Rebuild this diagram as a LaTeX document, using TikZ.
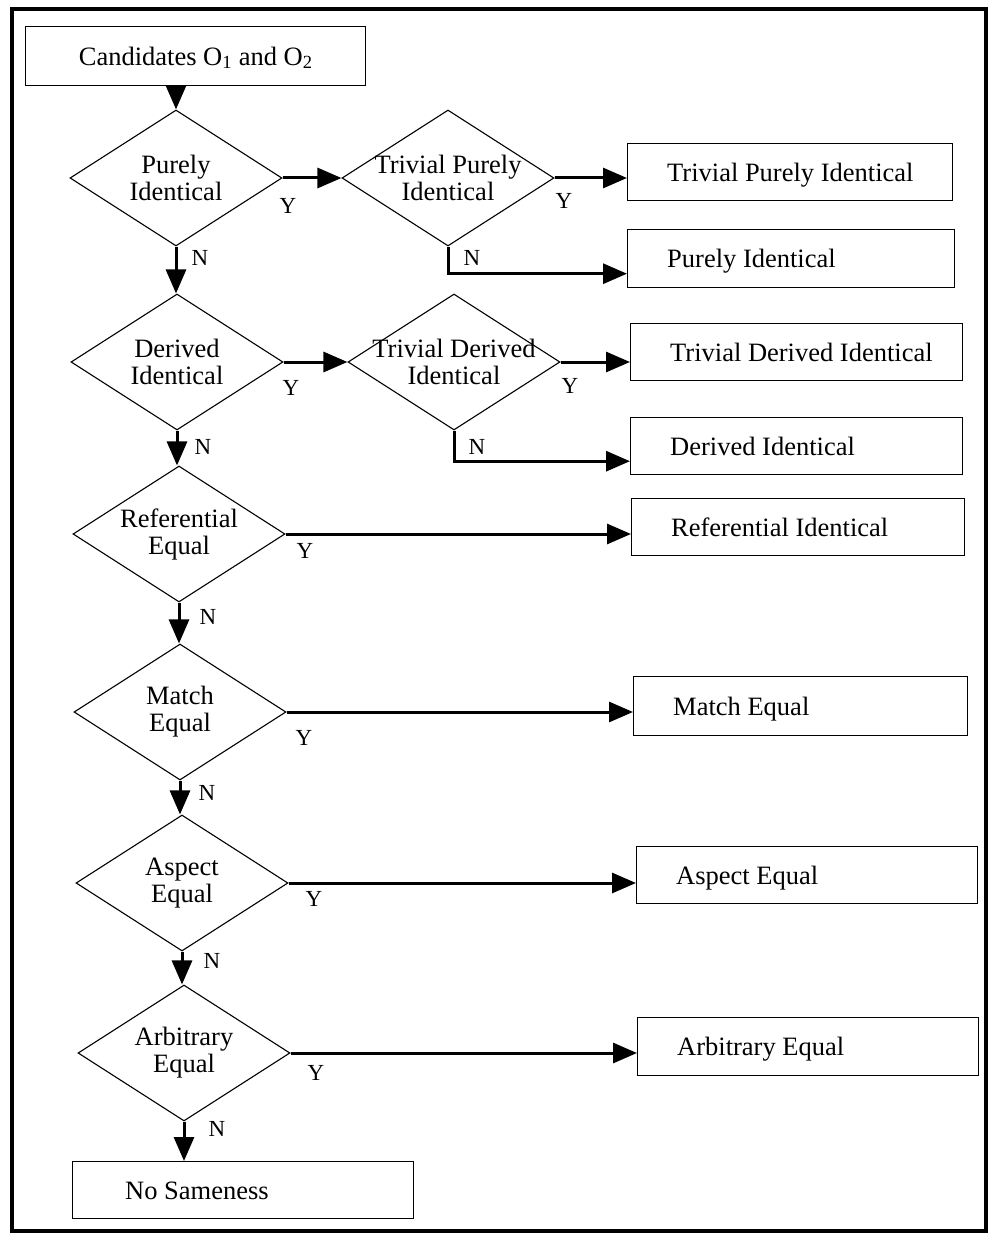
\documentclass[tikz,border=0pt]{standalone}
\usepackage{fontspec}
\setmainfont{Liberation Serif}
\usetikzlibrary{shapes.geometric,arrows.meta,calc}
\begin{document}
\begin{tikzpicture}[x=1pt,y=-1pt,
  every node/.style={font=\fontsize{26.5}{27}\selectfont},
  box/.style={draw, line width=1.4pt, anchor=north west, minimum height=57pt, inner sep=0pt},
  btxt/.style={anchor=west, xshift=40pt, inner sep=0pt, text height=18pt, text depth=0pt},
  dec/.style={draw, diamond, line width=1.1pt, minimum width=212pt, minimum height=136pt, inner sep=0pt},
  dtxt/.style={align=center, inner sep=0pt},
  flow/.style={line width=3pt, -{Triangle[length=24pt,width=20pt]}},
  yn/.style={font=\fontsize{23}{23}\selectfont, inner sep=0pt, text height=15.2pt, text depth=0pt}]

\useasboundingbox (0,0) rectangle (991,1233);
% outer frame
\draw[line width=3.5pt] (12,9) rectangle (986,1231);

% start box
\node[box, minimum width=340pt, minimum height=59pt, text height=18pt, text depth=0pt]
  (cand) at (25,26) {Candidates O\textsubscript{1} and O\textsubscript{2}};

% decisions
\node[dec, label={[dtxt]center:Purely\\Identical}] (d1) at (176,178) {};
\node[dec, label={[dtxt]center:Trivial Purely\\Identical}] (d2) at (448,178) {};
\node[dec, label={[dtxt]center:Derived\\Identical}] (d3) at (177,362) {};
\node[dec, label={[dtxt]center:Trivial Derived\\Identical}] (d4) at (454,362) {};
\node[dec, label={[dtxt]center:Referential\\Equal}] (d5) at (179,534) {};
\node[dec, label={[dtxt]center:Match\\Equal}] (d6) at (180,712) {};
\node[dec, label={[dtxt]center:Aspect\\Equal}] (d7) at (182,883) {};
\node[dec, label={[dtxt]center:Arbitrary\\Equal}] (d8) at (184,1053) {};

% outcomes
\node[box, minimum width=325pt, label={[btxt]west:Trivial Purely Identical}] (tpi) at (627,143) {};
\node[box, minimum width=327pt, minimum height=58pt, label={[btxt]west:Purely Identical}] (pi) at (627,229) {};
\node[box, minimum width=332pt, label={[btxt]west:Trivial Derived Identical}] (tdi) at (630,323) {};
\node[box, minimum width=332pt, label={[btxt]west:Derived Identical}] (di) at (630,417) {};
\node[box, minimum width=333pt, label={[btxt]west:Referential Identical}] (ri) at (631,498) {};
\node[box, minimum width=334pt, minimum height=59pt, label={[btxt]west:Match Equal}] (me) at (633,676) {};
\node[box, minimum width=341pt, label={[btxt]west:Aspect Equal}] (ae) at (636,846) {};
\node[box, minimum width=341pt, minimum height=58pt, label={[btxt]west:Arbitrary Equal}] (arb) at (637,1017) {};
\node[box, minimum width=341pt, label={[btxt, xshift=13pt]west:No Sameness}] (ns) at (72,1161) {};

% connectors
\draw[flow] (cand.south -| d1.north) -- (d1.north);
\draw[flow] (d1.east) -- (d2.west);
\draw[flow] (d2.east) -- (d2.east -| tpi.west);
\draw[flow] (d2.south) |- ($(pi.west)+(0,15)$);
\draw[flow] (d1.south) -- (d1.south |- d3.north);
\draw[flow] (d3.east) -- (d4.west);
\draw[flow] (d4.east) -- (d4.east -| tdi.west);
\draw[flow] (d4.south) |- ($(di.west)+(0,15)$);
\draw[flow] (d3.south) -- (d3.south |- d5.north);
\draw[flow] (d5.east) -- (d5.east -| ri.west);
\draw[flow] (d5.south) -- (d5.south |- d6.north);
\draw[flow] (d6.east) -- (d6.east -| me.west);
\draw[flow] (d6.south) -- (d6.south |- d7.north);
\draw[flow] (d7.east) -- (d7.east -| ae.west);
\draw[flow] (d7.south) -- (d7.south |- d8.north);
\draw[flow] (d8.east) -- (d8.east -| arb.west);
\draw[flow] (d8.south) -- (d8.south |- ns.north);

% branch labels
\node[yn] (y1) at (288,206) {Y};
\node[yn] (n1) at (200,258) {N};
\node[yn] (y2) at (564,201) {Y};
\node[yn] (n2) at (472,258) {N};
\node[yn] (y3) at (291,388) {Y};
\node[yn] (n3) at (203,447) {N};
\node[yn] (y4) at (570,386) {Y};
\node[yn] (n4) at (477,447) {N};
\node[yn] (y5) at (305,551) {Y};
\node[yn] (n5) at (208,617) {N};
\node[yn] (y6) at (304,738) {Y};
\node[yn] (n6) at (207,793) {N};
\node[yn] (y7) at (314,899) {Y};
\node[yn] (n7) at (212,961) {N};
\node[yn] (y8) at (316,1073) {Y};
\node[yn] (n8) at (217,1129) {N};
\end{tikzpicture}
\end{document}
